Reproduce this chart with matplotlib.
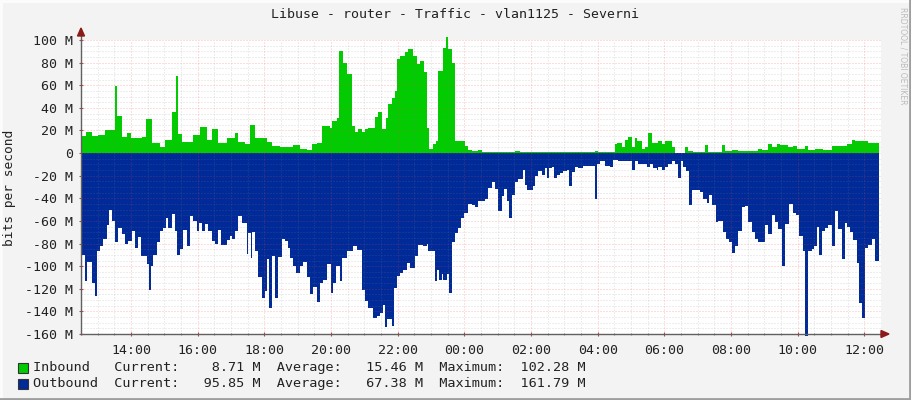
import matplotlib
matplotlib.use("Agg")
import matplotlib.pyplot as plt
from matplotlib.lines import Line2D
from matplotlib.patches import Rectangle, Polygon
import numpy as np

# ---- data (minutes after 12:30, value in Mbit/s) ----
in_t = [0, 9, 20, 31, 43, 61, 65, 74, 83, 90, 110, 117, 128, 142, 151, 164, 171, 175, 182, 202,
        214, 227, 236, 247, 263, 277, 283, 295, 304, 313, 335, 344, 358, 382, 394, 407, 416, 425,
        434, 448, 452, 461, 464, 472, 479, 488, 493, 499, 506, 511, 517, 529, 535, 542, 549, 553,
        560, 565, 569, 574, 583, 589, 598, 605, 610, 617, 623, 626, 634, 639, 643, 652, 657, 661,
        668, 673, 691, 697, 704, 715, 722, 781, 790, 925, 931, 961, 965, 974, 979, 985, 992, 997,
        1001, 1010, 1015, 1021, 1028, 1039, 1046, 1051, 1064, 1069, 1087, 1093, 1102, 1123, 1129,
        1154, 1159, 1172, 1183, 1219, 1226, 1237, 1244, 1253, 1258, 1273, 1282, 1289, 1303, 1309,
        1321, 1336, 1352, 1379, 1388, 1393, 1417]
in_v = [15, 18.5, 15, 16, 20, 59, 33, 14, 18, 13, 14, 30, 9, 5, 12, 36, 68, 17, 10, 16,
        23, 12, 21, 9, 13, 18, 10, 8, 25, 13, 10, 6, 5, 7, 4, 3, 8, 9,
        24, 22, 28, 31, 90, 80, 70, 24, 19, 21, 19, 21, 22, 32, 36, 21, 31, 43,
        49, 55, 83, 86, 89, 92, 86, 79, 81, 72, 22, 4, 8, 11, 73, 93, 102.3, 92,
        80, 11, 6, 3, 1.5, 2.5, 1, 2, 1, 2, 1, 8, 9, 5, 12, 14, 5, 13,
        11, 4, 5, 18, 9, 11, 8, 11, 5, 0.5, 5, 2, 1, 7, 1,
        7, 2, 3, 2, 4, 3, 8, 5, 8, 7, 5, 6, 4, 6, 3,
        4, 3, 6, 8, 12, 11, 8.7]

out_t = [0, 7, 11, 20, 25, 29, 34, 40, 47, 50, 56, 61, 67, 74, 79, 85, 92, 97, 103, 108,
         119, 122, 126, 130, 137, 142, 148, 153, 157, 164, 169, 173, 178, 184, 191, 196, 202, 209,
         212, 218, 223, 229, 236, 241, 247, 252, 263, 268, 272, 277, 283, 290, 299, 301, 306, 308,
         313, 319, 326, 331, 335, 338, 344, 349, 355, 362, 367, 373, 376, 382, 387, 394, 400, 407,
         412, 418, 425, 430, 436, 443, 450, 454, 459, 466, 470, 479, 490, 497, 506, 511, 517, 526,
         533, 538, 544, 547, 551, 560, 563, 569, 574, 580, 587, 592, 601, 607, 616, 623, 625, 637,
         641, 644, 650, 652, 659, 662, 668, 673, 679, 684, 689, 697, 704, 709, 715, 727, 733, 740,
         745, 751, 758, 761, 767, 770, 776, 781, 787, 796, 799, 803, 814, 817, 823, 830, 835, 839,
         842, 848, 851, 857, 862, 868, 875, 878, 884, 889, 895, 904, 925, 929, 934, 943, 952, 958,
         967, 992, 997, 1003, 1019, 1024, 1030, 1037, 1039, 1046, 1051, 1057, 1064, 1069, 1075, 1080,
         1084, 1089, 1094, 1100, 1114, 1120, 1127, 1130, 1136, 1143, 1147, 1156, 1161, 1166, 1172,
         1177, 1183, 1190, 1195, 1201, 1208, 1213, 1219, 1231, 1237, 1244, 1249, 1255, 1262, 1267,
         1274, 1282, 1287, 1292, 1300, 1303, 1309, 1316, 1319, 1325, 1328, 1334, 1339, 1345, 1352,
         1357, 1363, 1370, 1375, 1379, 1384, 1390, 1397, 1400, 1406, 1411, 1417, 1424, 1429]
out_v = [90, 113, 96, 115, 126, 87, 82, 76, 64, 50, 60, 79, 66, 72, 80, 78, 69, 84, 74, 91,
         98, 121, 100, 90, 79, 69, 66, 57, 66, 54, 69, 90, 85, 68, 82, 56, 60, 69,
         62, 69, 63, 69, 78, 80, 68, 81, 77, 73, 76, 69, 56, 62, 89, 71, 93, 70,
         87, 110, 128, 122, 94, 137, 91, 128, 92, 76, 78, 84, 93, 100, 106, 100, 96, 110,
         125, 118, 132, 115, 112, 98, 124, 115, 100, 113, 93, 87, 82, 86, 121, 131, 137, 146,
         144, 141, 134, 154, 147, 153, 119, 109, 106, 103, 97, 102, 91, 81, 82, 80, 87, 113,
         103, 112, 107, 112, 107, 124, 79, 71, 66, 57, 53, 45, 46, 48, 42, 41, 31, 26,
         32, 51, 38, 32, 42, 57, 37, 26, 23, 15, 28, 33, 29, 20, 16, 19, 13, 22,
         13, 12, 22, 19, 18, 16, 15, 29, 17, 12, 13, 11, 41, 10, 7, 11, 12, 6,
         7, 15, 7, 10, 12, 10, 13, 15, 12, 15, 12, 10, 7, 10, 22, 7,
         12, 16, 46, 33, 34, 41, 44, 37, 46, 61, 60, 70, 76, 79, 88,
         82, 69, 48, 47, 61, 70, 76, 79, 64, 72, 55, 61, 67, 100, 63,
         45, 53, 55, 73, 87, 161.8, 87, 85, 82, 65, 90, 69, 66, 64, 82,
         51, 67, 94, 62, 65, 70, 77, 97, 133, 146, 84, 81, 76, 95.85]

end_t = 1436
x_ticks_min = [90, 210, 330, 450, 570, 690, 810, 930, 1050, 1170, 1290, 1410]
x_labels = ["14:00", "16:00", "18:00", "20:00", "22:00", "00:00",
            "02:00", "04:00", "06:00", "08:00", "10:00", "12:00"]
y_ticks = [100, 80, 60, 40, 20, 0, -20, -40, -60, -80, -100, -120, -140, -160]
y_labels = ["100 M", "80 M", "60 M", "40 M", "20 M", "0", "-20 M", "-40 M", "-60 M",
            "-80 M", "-100 M", "-120 M", "-140 M", "-160 M"]

title = "Libuse - router - Traffic - vlan1125 - Severni"
legend_rows = [
    ("#00CC00", "Inbound   Current:    8.71 M  Average:   15.46 M  Maximum:  102.28 M"),
    ("#002A97", "Outbound  Current:   95.85 M  Average:   67.38 M  Maximum:  161.79 M"),
]

MONO = "DejaVu Sans Mono"
BG = "#F3F3F3"
W, H = 911, 400

fig = plt.figure(figsize=(W / 100, H / 100), dpi=100, facecolor=BG)
ax = fig.add_axes([81 / W, 66 / H, 800 / W, 294 / H])
ax.set_facecolor("white")
ax.set_xlim(0, 1440)
ax.set_ylim(-160, 100)

ti = np.array(in_t + [end_t])
vi = np.array(in_v + [in_v[-1]])
to = np.array(out_t + [end_t])
vo = -np.array(out_v + [out_v[-1]])
f1 = ax.fill_between(ti, 0, vi, step="post", facecolor="#00CC00", edgecolor="none",
                     linewidth=0, antialiased=False, zorder=2)
f2 = ax.fill_between(to, 0, vo, step="post", facecolor="#002A97", edgecolor="none",
                     linewidth=0, antialiased=False, zorder=2)
f1.set_clip_on(False)
f2.set_clip_on(False)

# grid (drawn over the areas, faint dotted)
GRAY = (0.5, 0.5, 0.5, 0.28)
RED = (1.0, 0.25, 0.25, 0.35)
LS = (0, (1, 2))
LW = 0.72
minor_x = np.arange(0, 1441, 30)
for xv in minor_x:
    if xv in x_ticks_min:
        continue
    ax.axvline(xv, color=GRAY, lw=LW, ls=LS, zorder=3)
for xv in x_ticks_min:
    ax.axvline(xv, color=RED, lw=LW, ls=LS, zorder=3)
for yv in np.arange(-160, 101, 5):
    ax.axhline(yv, color=RED if yv % 20 == 0 else GRAY, lw=LW, ls=LS, zorder=3)

for s in ["top", "right"]:
    ax.spines[s].set_visible(False)
for s in ["left", "bottom"]:
    ax.spines[s].set_color("#606060")
    ax.spines[s].set_linewidth(1.0)
    ax.spines[s].set_zorder(4)

ax.set_xticks(x_ticks_min)
ax.set_xticklabels(x_labels, fontfamily=MONO, fontsize=9.5, color="#222222")
ax.set_xticks(minor_x, minor=True)
ax.set_yticks(y_ticks)
ax.set_yticklabels(y_labels, fontfamily=MONO, fontsize=9.5, color="#222222")
ax.tick_params(axis="x", which="major", length=3, width=0.8, color="#c04040", pad=6, direction="inout")
ax.tick_params(axis="x", which="minor", length=2, width=0.8, color="#909090", direction="inout")
ax.tick_params(axis="y", which="major", length=3, width=0.8, color="#c04040", pad=4, direction="inout")

# axis arrows
arrow_col = "#8B1A1A"
fig.patches.append(Polygon([[881 / W, 1 - 330.5 / H], [881 / W, 1 - 337.5 / H], [889 / W, 1 - 334 / H]],
                           closed=True, transform=fig.transFigure, color=arrow_col, zorder=5))
fig.lines.append(Line2D([81 / W, 81 / W], [1 - 40 / H, 1 - 32 / H], transform=fig.transFigure,
                        color="#606060", lw=1.0))
fig.patches.append(Polygon([[77.5 / W, 1 - 36 / H], [84.5 / W, 1 - 36 / H], [81 / W, 1 - 28 / H]],
                           closed=True, transform=fig.transFigure, color=arrow_col, zorder=5))

fig.text(455 / W, 1 - 14.5 / H, title, fontfamily=MONO, fontsize=9.5, ha="center", va="center",
         color="#222222")
fig.text(10 / W, 1 - 188 / H, "bits per second", fontfamily=MONO, fontsize=9.3, rotation=90,
         ha="center", va="center", color="#222222")
fig.text(903 / W, 1 - 7 / H, "RRDTOOL / TOBI OETIKER", fontfamily="DejaVu Sans", fontsize=5.5,
         rotation=270, ha="center", va="top", color="#BBBBBB")

for i, (col, txt) in enumerate(legend_rows):
    yc = 368 + 16 * i
    fig.patches.append(Rectangle((18 / W, 1 - (yc + 5) / H), 10 / W, 10 / H, transform=fig.transFigure,
                                 facecolor=col, edgecolor="#333333", lw=0.8))
    fig.text(33 / W, 1 - yc / H, txt, fontfamily=MONO, fontsize=9.7, ha="left", va="center",
             color="#222222")

# 3D frame
fig.lines.append(Line2D([0, 1], [1 - 0.5 / H, 1 - 0.5 / H], transform=fig.transFigure, color="#FCFCFC", lw=2))
fig.lines.append(Line2D([0.5 / W, 0.5 / W], [0, 1], transform=fig.transFigure, color="#FCFCFC", lw=2))
fig.lines.append(Line2D([0, 1], [1.0 / H, 1.0 / H], transform=fig.transFigure, color="#9E9E9E", lw=2))
fig.lines.append(Line2D([1 - 1.0 / W, 1 - 1.0 / W], [0, 1], transform=fig.transFigure, color="#9E9E9E", lw=2))

fig.savefig("out.png", dpi=100, facecolor=BG)
